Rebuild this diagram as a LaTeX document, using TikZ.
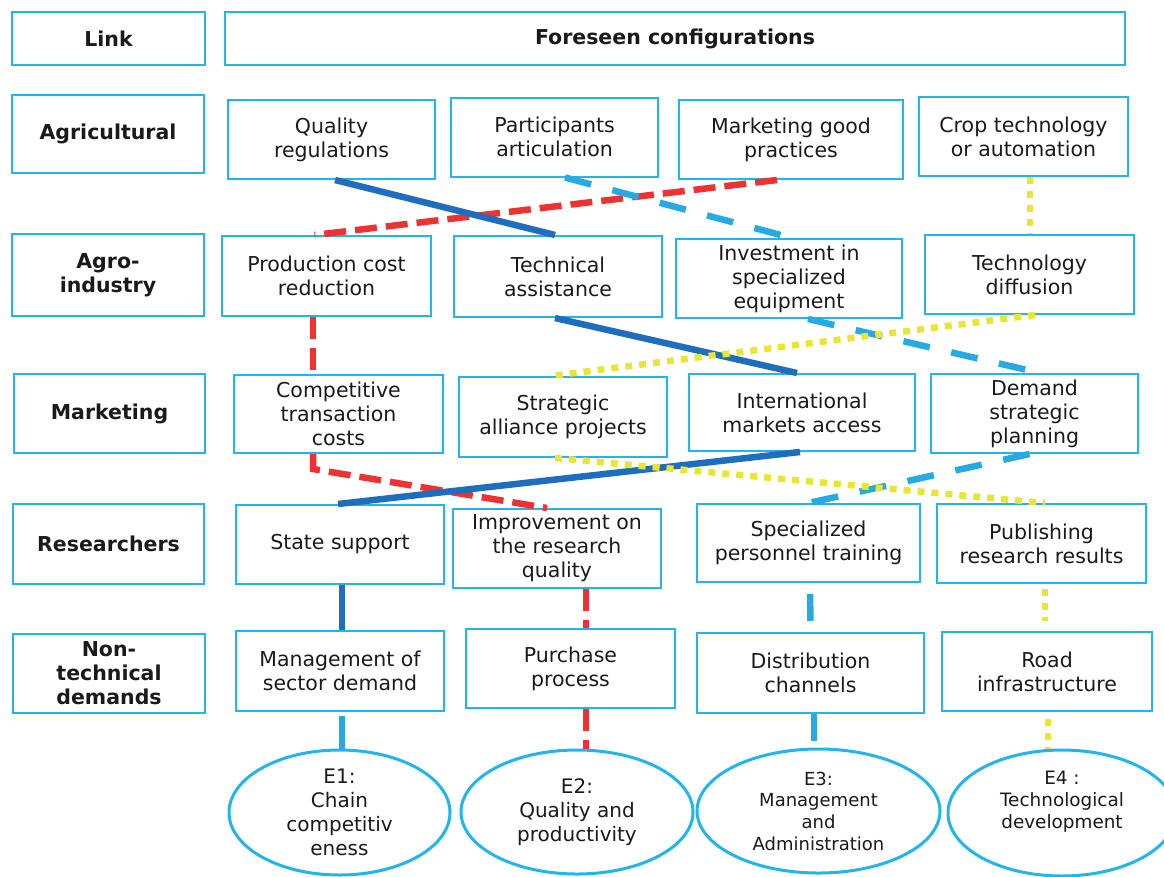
\documentclass[tikz,border=0pt]{standalone}
\usepackage{fontspec}
\setmainfont{DejaVu Sans}
\usetikzlibrary{calc,shapes.geometric}
\definecolor{boxblue}{HTML}{22B4EC}
\definecolor{lineblue}{HTML}{27A9E1}
\definecolor{darkblue}{HTML}{1F6EBE}
\definecolor{redline}{HTML}{EE3131}
\definecolor{yel}{HTML}{E9E534}
\definecolor{txt}{HTML}{1A1A1A}
\begin{document}
\begin{tikzpicture}[x=1pt,y=-1pt,
  box/.style={draw=boxblue, line width=2pt, inner sep=0pt, align=center, text=txt,
    font=\fontsize{20.5}{24}\selectfont},
  lab/.style={box, font=\bfseries\fontsize{20.5}{24}\selectfont},
  sz/.style 2 args={minimum width=#1pt, minimum height=#2pt},
  ell/.style={ellipse, draw=boxblue, line width=3pt, inner sep=0pt, align=center, text=txt},
  redd/.style={draw=redline, line width=6.5pt, dash pattern=on 22pt off 9pt},
  blued/.style={draw=lineblue, line width=6.5pt, dash pattern=on 27pt off 22pt},
  yeld/.style={draw=yel, line width=6.5pt, dash pattern=on 7pt off 7pt},
  dblue/.style={draw=darkblue, line width=6.5pt},
  lblue/.style={draw=lineblue, line width=6.5pt}]
\useasboundingbox (0,0) rectangle (1164,876);

% header row
\node[lab, sz={193}{53}] (link) at (108.5,38.5) {Link};
\node[lab, sz={900}{53}] (fore) at (675,38.5) {Foreseen configurations};

% row labels
\node[lab, sz={192}{78}] (lagr) at (108,134) {Agricultural};
\node[lab, sz={192}{82}] (lagi) at (108,275) {Agro-\\industry};
\node[lab, sz={191}{79}] (lmkt) at (109.5,413.5) {Marketing};
\node[lab, sz={191}{80}] (lres) at (108.5,544) {Researchers};
\node[lab, sz={192}{79}] (lnon) at (109,673.5) {Non-\\technical\\demands};

% Agricultural
\node[box, sz={207}{79}] (qr)  at (331.5,139.5) {Quality\\regulations};
\node[box, sz={207}{79}] (pa)  at (554.5,137)   {Participants\\articulation};
\node[box, sz={224}{79}] (mgp) at (791,139.5)   {Marketing good\\practices};
\node[box, sz={209}{79}] (ct)  at (1023.5,136.5){Crop technology\\or automation};

% Agro-industry
\node[box, sz={209}{80}] (pcr) at (326.5,276)   {Production cost\\reduction};
\node[box, sz={208}{81}] (ta)  at (558,276.5)   {Technical\\assistance};
\node[box, sz={226}{79}] (ise) at (789,278.5)   {Investment in\\specialized\\equipment};
\node[box, sz={209}{79}] (td)  at (1029.5,274.5){Technology\\diffusion};

% Marketing
\node[box, sz={209}{78}] (ctc) at (338.5,414)   {Competitive\\transaction\\costs};
\node[box, sz={208}{80}] (sap) at (563,417)     {Strategic\\alliance projects};
\node[box, sz={226}{77}] (ima) at (802,412.5)   {International\\markets access};
\node[box, sz={207}{79}] (dsp) at (1034.5,413.5){Demand\\strategic\\planning};

% Researchers
\node[box, sz={208}{79}] (ss)  at (340,544.5)   {State support};
\node[box, sz={208}{79}] (irq) at (557,548.5)   {Improvement on\\the research\\quality};
\node[box, sz={223}{78}] (spt) at (808.5,543)   {Specialized\\personnel training};
\node[box, sz={209}{79}] (prr) at (1041.5,543.5){Publishing\\research results};

% Non-technical demands
\node[box, sz={208}{80}] (msd) at (340,671)     {Management of\\sector demand};
\node[box, sz={209}{79}] (pp)  at (570.5,668.5) {Purchase\\process};
\node[box, sz={227}{80}] (dc)  at (810.5,673)   {Distribution\\channels};
\node[box, sz={210}{79}] (ri)  at (1047,671.5)  {Road\\infrastructure};

% Ellipses
\node[ell, sz={221}{125}, font=\fontsize{20}{24}\selectfont] (e1) at (339.5,812.5) {E1:\\Chain\\competitiv\\eness};
\node[ell, sz={232}{124}, font=\fontsize{20}{24}\selectfont] (e2) at (577,812) {E2:\\Quality and\\productivity};
\node[ell, sz={243}{124}, font=\fontsize{18}{21.7}\selectfont] (e3) at (818.5,811) {E3:\\Management\\and\\Administration};
\node[ell, sz={228}{126}, font=\fontsize{18.4}{22}\selectfont] (e4) at (1062,813) {E4 :\\Technological\\development\\[4pt]};

% Red dashed chain
\draw[redd] ($(mgp.south)+(-14,0)$) -- ($(pcr.north)+(-12,0)$);
\draw[redd] ($(pcr.south)+(-13.5,0)$) -- ($(ctc.north)+(-25.5,0)$);
\draw[redd] ($(ctc.south)+(-25.5,0)$) -- ++(0,15) -- ($(irq.north)+(-10,0)$);
\draw[redd] ($(irq.south)+(29,0)$) -- ($(pp.north)+(15.5,0)$);
\draw[redd] ($(pp.south)+(15.5,0)$) -- ($(e2.north)+(9,0)$);

% Dark blue solid chain
\draw[dblue] ($(qr.south)+(3.5,0)$) -- ($(ta.north)+(-3,0)$);
\draw[dblue] ($(ta.south)+(-3,0)$) -- ($(ima.north)+(-5,0)$);
\draw[dblue] ($(ima.south)+(-2,0)$) -- ($(ss.north)+(-2,0)$);
\draw[dblue] ($(ss.south)+(2,0)$) -- ($(msd.north)+(2,0)$);
\draw[lblue, shorten <=4pt] ($(msd.south)+(2,0)$) -- ($(e1.north)+(2.5,0)$);

% Light blue dashed chain
\draw[blued] ($(pa.south)+(10.5,0)$) -- ($(ise.north)+(3,0)$);
\draw[blued] ($(ise.south)+(19,0)$) -- ($(dsp.north)+(5.5,0)$);
\draw[blued] ($(dsp.south)+(-5,0)$) -- ($(spt.north)+(0,0)$);
\draw[blued, shorten <=11pt, shorten >=11pt] ($(spt.south)+(1.5,0)$) -- ($(dc.north)+(0,0)$);
\draw[lblue, shorten >=7pt] ($(dc.south)+(3.5,0)$) -- ($(e3.north)+(-4.5,0)$);

% Yellow dotted chain
\draw[yeld] ($(ct.south)+(6.5,0)$) -- ($(td.north)+(0.5,0)$);
\draw[yeld] ($(td.south)+(5.5,0)$) -- ($(sap.north)+(-13,0)$);
\draw[yeld] ($(sap.south)+(-8,0)$) -- ($(prr.north)+(3.5,0)$);
\draw[yeld, shorten <=5pt, shorten >=10pt] ($(prr.south)+(3.5,0)$) -- ($(ri.north)+(-2,0)$);
\draw[yeld, shorten <=7pt] ($(ri.south)+(1,0)$) -- ($(e4.north)+(-14,0)$);
\end{tikzpicture}
\end{document}
